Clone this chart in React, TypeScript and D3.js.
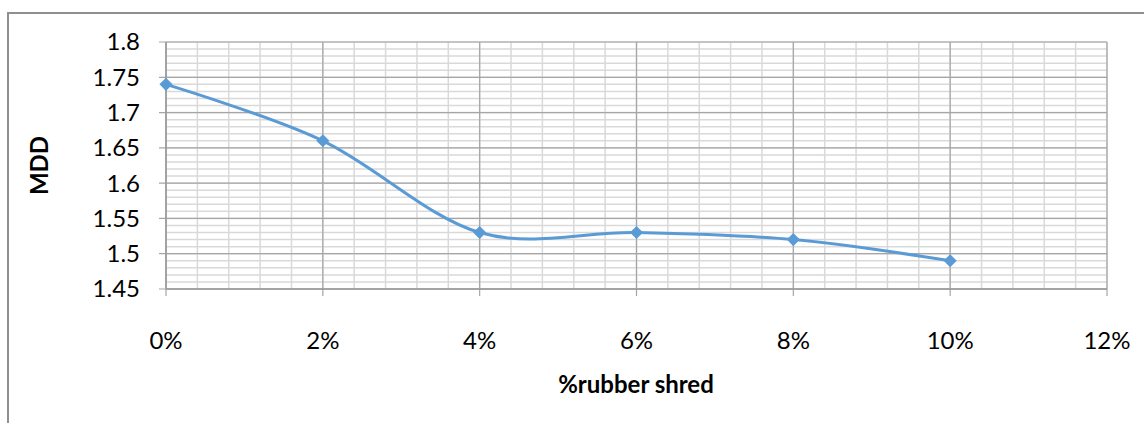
import React from "react";
import * as d3 from "d3";

const shredPct = [0, 2, 4, 6, 8, 10];
const mddValues = [1.74, 1.66, 1.53, 1.53, 1.52, 1.49];
const xTicks = [0, 2, 4, 6, 8, 10, 12];
const yTicks = [1.45, 1.5, 1.55, 1.6, 1.65, 1.7, 1.75, 1.8];

const W = 1144;
const H = 423;
const left = 166;
const right = 1107;
const top = 42;
const bottom = 289;
const font = "Lato, 'Open Sans', sans-serif";
const fs = 24;

export default function App() {
  const x = d3.scaleLinear().domain([0, 12]).range([left, right]);
  const y = d3.scaleLinear().domain([1.45, 1.8]).range([bottom, top]);

  const minorX = d3.range(0, 12.0001, 0.4);
  const minorY = d3.range(1.45, 1.8001, 0.01);

  const line = d3
    .line<number>()
    .x((_, i) => x(shredPct[i]))
    .y((d) => y(d))
    .curve(d3.curveCatmullRom.alpha(0));

  const diamond = d3.symbol().type(d3.symbolDiamond2).size(110)() as string;

  return (
    <svg
      width={W}
      height={H}
      style={{ position: "absolute", left: 0, top: 0, background: "#fff" }}
    >
      {/* chart frame */}
      <rect x={8} y={13} width={1200} height={500} fill="none" stroke="#8f8f8f" strokeWidth={2} />

      {/* minor gridlines */}
      {minorX.map((v, i) => (
        <line key={"mx" + i} x1={x(v)} x2={x(v)} y1={top} y2={bottom} stroke="#d9d9d9" strokeWidth={1.5} />
      ))}
      {minorY.map((v, i) => (
        <line key={"my" + i} x1={left} x2={right} y1={y(v)} y2={y(v)} stroke="#d9d9d9" strokeWidth={1.5} />
      ))}
      {/* major gridlines */}
      {xTicks.map((v) => (
        <line key={"gx" + v} x1={x(v)} x2={x(v)} y1={top} y2={bottom + 7} stroke="#a6a6a6" strokeWidth={1.2} />
      ))}
      {yTicks.map((v) => (
        <line key={"gy" + v} x1={left - 7} x2={right} y1={y(v)} y2={y(v)} stroke="#a6a6a6" strokeWidth={1.2} />
      ))}
      {/* axes */}
      <line x1={left} x2={left} y1={top} y2={bottom} stroke="#9a9a9a" strokeWidth={1.5} />
      <line x1={left} x2={right} y1={bottom} y2={bottom} stroke="#9a9a9a" strokeWidth={1.5} />

      {/* tick labels */}
      {yTicks.map((v) => (
        <text key={"ty" + v} x={140} y={y(v)} dy="0.35em" textAnchor="end" fontFamily={font} fontSize={fs} fill="#000">
          {String(+v.toFixed(2))}
        </text>
      ))}
      {xTicks.map((v) => (
        <text key={"tx" + v} x={x(v)} y={341} dy="0.35em" textAnchor="middle" fontFamily={font} fontSize={fs} fill="#000">
          {v + "%"}
        </text>
      ))}

      {/* axis titles */}
      <text x={636} y={385} dy="0.35em" textAnchor="middle" fontFamily={font} fontSize={fs} fontWeight="bold">
        %rubber shred
      </text>
      <text
        transform={`translate(40,${(top + bottom) / 2}) rotate(-90)`}
        dy="0.35em"
        textAnchor="middle"
        fontFamily={font}
        fontSize={fs}
        fontWeight="bold"
      >
        MDD
      </text>

      {/* series */}
      <path d={line(mddValues) as string} fill="none" stroke="#5b9bd5" strokeWidth={3} strokeLinejoin="round" />
      {mddValues.map((v, i) => (
        <path key={"m" + i} d={diamond} transform={`translate(${x(shredPct[i])},${y(v)})`} fill="#5b9bd5" />
      ))}
    </svg>
  );
}
